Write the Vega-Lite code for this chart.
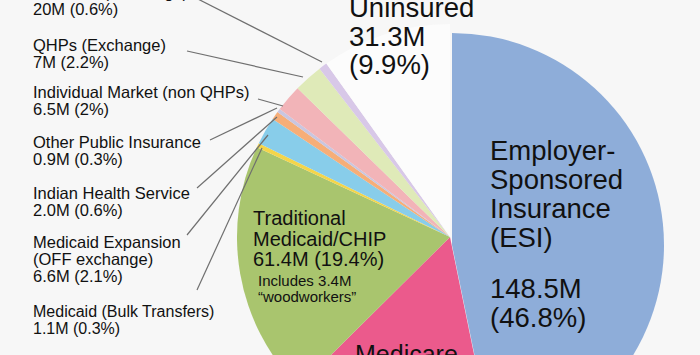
{
  "$schema": "https://vega.github.io/schema/vega-lite/v6.json",
  "width": 700,
  "height": 355,
  "autosize": {"type": "none"},
  "padding": 0,
  "background": "#f7f7f7",
  "config": {"view": {"stroke": null}, "text": {"font": "Liberation Sans", "color": "#111111"}, "rule": {"color": "#6f6f6f", "strokeWidth": 1.2}},
  "data": {"values": [
    {"rank": 1, "name": "Employer-Sponsored Insurance (ESI)", "caption": "Employer-\nSponsored\nInsurance\n(ESI)", "amount": "148.5M\n(46.8%)", "millions": 148.5, "percent": 46.8},
    {"rank": 2, "name": "Medicare", "caption": "Medicare", "millions": 50.1, "percent": 15.8},
    {"rank": 3, "name": "Traditional Medicaid/CHIP", "caption": "Traditional\nMedicaid/CHIP\n61.4M (19.4%)", "note": "Includes 3.4M\n“woodworkers”", "millions": 61.4, "percent": 19.4},
    {"rank": 4, "name": "Medicaid (Bulk Transfers)", "caption": "Medicaid (Bulk Transfers)\n1.1M (0.3%)", "millions": 1.1, "percent": 0.3},
    {"rank": 5, "name": "Medicaid Expansion (OFF exchange)", "caption": "Medicaid Expansion\n(OFF exchange)\n6.6M (2.1%)", "millions": 6.6, "percent": 2.1},
    {"rank": 6, "name": "Indian Health Service", "caption": "Indian Health Service\n2.0M (0.6%)", "millions": 2.0, "percent": 0.6},
    {"rank": 7, "name": "Other Public Insurance", "caption": "Other Public Insurance\n0.9M (0.3%)", "millions": 0.9, "percent": 0.3},
    {"rank": 8, "name": "Individual Market (non QHPs)", "caption": "Individual Market (non QHPs)\n6.5M (2%)", "millions": 6.5, "percent": 2.0},
    {"rank": 9, "name": "QHPs (Exchange)", "caption": "QHPs (Exchange)\n7M (2.2%)", "millions": 7.0, "percent": 2.2},
    {"rank": 10, "name": "Medicaid (Exchange)", "caption": "Medicaid (Exchange)\n20M (0.6%)", "millions": 2.0, "percent": 0.6},
    {"rank": 11, "name": "Uninsured", "caption": "Uninsured\n31.3M\n(9.9%)", "millions": 31.3, "percent": 9.9}
  ]},
  "layer": [
    {
      "mark": {"type": "arc", "radius": 213, "clip": true},
      "encoding": {
        "theta": {"field": "millions", "type": "quantitative", "stack": true},
        "order": {"field": "rank", "type": "quantitative"},
        "color": {"field": "name", "type": "nominal", "legend": null, "scale": {
          "domain": ["Employer-Sponsored Insurance (ESI)", "Medicare", "Traditional Medicaid/CHIP", "Medicaid (Bulk Transfers)", "Medicaid Expansion (OFF exchange)", "Indian Health Service", "Other Public Insurance", "Individual Market (non QHPs)", "QHPs (Exchange)", "Medicaid (Exchange)", "Uninsured"],
          "range": ["#8eadd9", "#eb5a8c", "#a9c56e", "#f4d54a", "#88cdea", "#f6ae78", "#c9c6e0", "#f2b4b8", "#dfeab8", "#d8c8e8", "#fcfcfc"]}},
        "opacity": {"condition": {"test": "datum.rank === 1", "value": 0}, "value": 1},
        "x": {"datum": 0, "type": "quantitative", "axis": null, "scale": {"domain": [-450, 250], "nice": false, "zero": false}},
        "y": {"datum": 0, "type": "quantitative", "axis": null, "scale": {"domain": [-118, 237], "nice": false, "zero": false}}
      }
    },
    {
      "mark": {"type": "arc", "radius": 212, "clip": true},
      "encoding": {
        "theta": {"field": "millions", "type": "quantitative", "stack": true},
        "order": {"field": "rank", "type": "quantitative"},
        "color": {"field": "name", "type": "nominal", "legend": null},
        "opacity": {"condition": {"test": "datum.rank === 1", "value": 1}, "value": 0},
        "x": {"datum": 2, "type": "quantitative", "axis": null, "scale": {"domain": [-450, 250], "nice": false, "zero": false}},
        "y": {"datum": -8, "type": "quantitative", "axis": null, "scale": {"domain": [-118, 237], "nice": false, "zero": false}}
      }
    },
    {
      "transform": [{"filter": "datum.rank === 1"}],
      "layer": [
        {
          "mark": {"type": "text", "align": "left", "baseline": "alphabetic", "fontSize": 27.5, "lineHeight": 29, "lineBreak": "\n"},
          "encoding": {"text": {"field": "caption"},
            "x": {"datum": 40, "type": "quantitative", "axis": null, "scale": {"domain": [-450, 250], "nice": false, "zero": false}},
            "y": {"datum": 77, "type": "quantitative", "axis": null, "scale": {"domain": [-118, 237], "nice": false, "zero": false}}}
        },
        {
          "mark": {"type": "text", "align": "left", "baseline": "alphabetic", "fontSize": 27.5, "lineHeight": 29, "lineBreak": "\n"},
          "encoding": {"text": {"field": "amount"},
            "x": {"datum": 40, "type": "quantitative", "axis": null, "scale": {"domain": [-450, 250], "nice": false, "zero": false}},
            "y": {"datum": -61, "type": "quantitative", "axis": null, "scale": {"domain": [-118, 237], "nice": false, "zero": false}}}
        }
      ]
    },
    {
      "transform": [{"filter": "datum.rank === 11"}],
      "mark": {"type": "text", "align": "left", "baseline": "alphabetic", "fontSize": 27.5, "lineHeight": 28.5, "lineBreak": "\n", "clip": true},
      "encoding": {"text": {"field": "caption"},
        "x": {"datum": -101, "type": "quantitative", "axis": null, "scale": {"domain": [-450, 250], "nice": false, "zero": false}},
        "y": {"datum": 220, "type": "quantitative", "axis": null, "scale": {"domain": [-118, 237], "nice": false, "zero": false}}}
    },
    {
      "transform": [{"filter": "datum.rank === 2"}],
      "mark": {"type": "text", "align": "left", "baseline": "alphabetic", "fontSize": 25, "lineBreak": "\n", "clip": true},
      "encoding": {"text": {"field": "caption"},
        "x": {"datum": -95, "type": "quantitative", "axis": null, "scale": {"domain": [-450, 250], "nice": false, "zero": false}},
        "y": {"datum": -126, "type": "quantitative", "axis": null, "scale": {"domain": [-118, 237], "nice": false, "zero": false}}}
    },
    {
      "transform": [{"filter": "datum.rank === 3"}],
      "layer": [
        {
          "mark": {"type": "text", "align": "left", "baseline": "alphabetic", "fontSize": 20, "lineHeight": 20.5, "lineBreak": "\n"},
          "encoding": {"text": {"field": "caption"},
            "x": {"datum": -197, "type": "quantitative", "axis": null, "scale": {"domain": [-450, 250], "nice": false, "zero": false}},
            "y": {"datum": 12, "type": "quantitative", "axis": null, "scale": {"domain": [-118, 237], "nice": false, "zero": false}}}
        },
        {
          "mark": {"type": "text", "align": "left", "baseline": "alphabetic", "fontSize": 15, "lineHeight": 15.5, "lineBreak": "\n"},
          "encoding": {"text": {"field": "note"},
            "x": {"datum": -192, "type": "quantitative", "axis": null, "scale": {"domain": [-450, 250], "nice": false, "zero": false}},
            "y": {"datum": -49, "type": "quantitative", "axis": null, "scale": {"domain": [-118, 237], "nice": false, "zero": false}}}
        }
      ]
    },
    {
      "transform": [{"filter": "datum.rank === 10"}],
      "layer": [
        {"mark": {"type": "text", "align": "left", "baseline": "alphabetic", "fontSize": 16.5, "lineHeight": 16.5, "lineBreak": "\n", "clip": true},
          "encoding": {"text": {"field": "caption"},
            "x": {"datum": -417, "type": "quantitative", "axis": null, "scale": {"domain": [-450, 250], "nice": false, "zero": false}},
            "y": {"datum": 239, "type": "quantitative", "axis": null, "scale": {"domain": [-118, 237], "nice": false, "zero": false}}}},
        {"mark": {"type": "rule", "clip": true},
          "encoding": {
            "x": {"datum": -260, "type": "quantitative", "axis": null, "scale": {"domain": [-450, 250], "nice": false, "zero": false}},
            "y": {"datum": 242, "type": "quantitative", "axis": null, "scale": {"domain": [-118, 237], "nice": false, "zero": false}},
            "x2": {"datum": -128}, "y2": {"datum": 175}}}
      ]
    },
    {
      "transform": [{"filter": "datum.rank === 9"}],
      "layer": [
        {"mark": {"type": "text", "align": "left", "baseline": "alphabetic", "fontSize": 16.5, "lineHeight": 16.5, "lineBreak": "\n"},
          "encoding": {"text": {"field": "caption"},
            "x": {"datum": -417, "type": "quantitative", "axis": null, "scale": {"domain": [-450, 250], "nice": false, "zero": false}},
            "y": {"datum": 186, "type": "quantitative", "axis": null, "scale": {"domain": [-118, 237], "nice": false, "zero": false}}}},
        {"mark": {"type": "rule"},
          "encoding": {
            "x": {"datum": -263, "type": "quantitative", "axis": null, "scale": {"domain": [-450, 250], "nice": false, "zero": false}},
            "y": {"datum": 186, "type": "quantitative", "axis": null, "scale": {"domain": [-118, 237], "nice": false, "zero": false}},
            "x2": {"datum": -147}, "y2": {"datum": 160}}}
      ]
    },
    {
      "transform": [{"filter": "datum.rank === 8"}],
      "layer": [
        {"mark": {"type": "text", "align": "left", "baseline": "alphabetic", "fontSize": 16.5, "lineHeight": 16.5, "lineBreak": "\n"},
          "encoding": {"text": {"field": "caption"},
            "x": {"datum": -417, "type": "quantitative", "axis": null, "scale": {"domain": [-450, 250], "nice": false, "zero": false}},
            "y": {"datum": 139, "type": "quantitative", "axis": null, "scale": {"domain": [-118, 237], "nice": false, "zero": false}}}},
        {"mark": {"type": "rule"},
          "encoding": {
            "x": {"datum": -192, "type": "quantitative", "axis": null, "scale": {"domain": [-450, 250], "nice": false, "zero": false}},
            "y": {"datum": 138, "type": "quantitative", "axis": null, "scale": {"domain": [-118, 237], "nice": false, "zero": false}},
            "x2": {"datum": -167}, "y2": {"datum": 131}}}
      ]
    },
    {
      "transform": [{"filter": "datum.rank === 7"}],
      "layer": [
        {"mark": {"type": "text", "align": "left", "baseline": "alphabetic", "fontSize": 16.5, "lineHeight": 16.5, "lineBreak": "\n"},
          "encoding": {"text": {"field": "caption"},
            "x": {"datum": -417, "type": "quantitative", "axis": null, "scale": {"domain": [-450, 250], "nice": false, "zero": false}},
            "y": {"datum": 89, "type": "quantitative", "axis": null, "scale": {"domain": [-118, 237], "nice": false, "zero": false}}}},
        {"mark": {"type": "rule"},
          "encoding": {
            "x": {"datum": -240, "type": "quantitative", "axis": null, "scale": {"domain": [-450, 250], "nice": false, "zero": false}},
            "y": {"datum": 97, "type": "quantitative", "axis": null, "scale": {"domain": [-118, 237], "nice": false, "zero": false}},
            "x2": {"datum": -173}, "y2": {"datum": 129}}}
      ]
    },
    {
      "transform": [{"filter": "datum.rank === 6"}],
      "layer": [
        {"mark": {"type": "text", "align": "left", "baseline": "alphabetic", "fontSize": 16.5, "lineHeight": 16.5, "lineBreak": "\n"},
          "encoding": {"text": {"field": "caption"},
            "x": {"datum": -417, "type": "quantitative", "axis": null, "scale": {"domain": [-450, 250], "nice": false, "zero": false}},
            "y": {"datum": 38, "type": "quantitative", "axis": null, "scale": {"domain": [-118, 237], "nice": false, "zero": false}}}},
        {"mark": {"type": "rule"},
          "encoding": {
            "x": {"datum": -253, "type": "quantitative", "axis": null, "scale": {"domain": [-450, 250], "nice": false, "zero": false}},
            "y": {"datum": 49, "type": "quantitative", "axis": null, "scale": {"domain": [-118, 237], "nice": false, "zero": false}},
            "x2": {"datum": -173}, "y2": {"datum": 120}}}
      ]
    },
    {
      "transform": [{"filter": "datum.rank === 5"}],
      "layer": [
        {"mark": {"type": "text", "align": "left", "baseline": "alphabetic", "fontSize": 16.5, "lineHeight": 16.8, "lineBreak": "\n"},
          "encoding": {"text": {"field": "caption"},
            "x": {"datum": -417, "type": "quantitative", "axis": null, "scale": {"domain": [-450, 250], "nice": false, "zero": false}},
            "y": {"datum": -11, "type": "quantitative", "axis": null, "scale": {"domain": [-118, 237], "nice": false, "zero": false}}}},
        {"mark": {"type": "rule"},
          "encoding": {
            "x": {"datum": -263, "type": "quantitative", "axis": null, "scale": {"domain": [-450, 250], "nice": false, "zero": false}},
            "y": {"datum": 2, "type": "quantitative", "axis": null, "scale": {"domain": [-118, 237], "nice": false, "zero": false}},
            "x2": {"datum": -182}, "y2": {"datum": 102}}}
      ]
    },
    {
      "transform": [{"filter": "datum.rank === 4"}],
      "layer": [
        {"mark": {"type": "text", "align": "left", "baseline": "alphabetic", "fontSize": 16, "lineHeight": 16.5, "lineBreak": "\n"},
          "encoding": {"text": {"field": "caption"},
            "x": {"datum": -417, "type": "quantitative", "axis": null, "scale": {"domain": [-450, 250], "nice": false, "zero": false}},
            "y": {"datum": -80, "type": "quantitative", "axis": null, "scale": {"domain": [-118, 237], "nice": false, "zero": false}}}},
        {"mark": {"type": "rule"},
          "encoding": {
            "x": {"datum": -253, "type": "quantitative", "axis": null, "scale": {"domain": [-450, 250], "nice": false, "zero": false}},
            "y": {"datum": -53, "type": "quantitative", "axis": null, "scale": {"domain": [-118, 237], "nice": false, "zero": false}},
            "x2": {"datum": -188}, "y2": {"datum": 89}}}
      ]
    }
  ]
}
